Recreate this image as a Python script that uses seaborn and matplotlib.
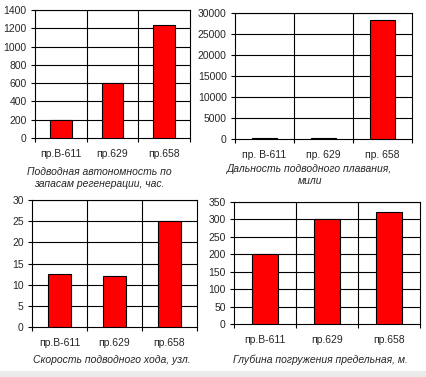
import matplotlib
matplotlib.use("Agg")
import matplotlib.pyplot as plt
import seaborn as sns
import pandas as pd
from matplotlib.patches import Rectangle

sns.set_style("white")
plt.rcParams['font.family'] = ['Liberation Sans', 'DejaVu Sans']

# ==========================================
# Data
# ==========================================
models = ["пр.В-611", "пр.629", "пр.658"]
models_spaced = ["пр. В-611", "пр. 629", "пр. 658"]
autonomy_hours = [200, 600, 1235]
range_miles = [300, 300, 28300]
speed_knots = [12.5, 12, 25]
depth_m = [200, 300, 320]

W, H = 427, 377
fig = plt.figure(figsize=(W / 100, H / 100), dpi=100)
fig.patch.set_facecolor("white")

# light grey frame strip like the original screenshot
fig.patches.append(Rectangle((0, 0), 1, 6 / H, transform=fig.transFigure,
                             facecolor="#ebebeb", edgecolor="none", zorder=0))


def px_axes(left, right, top, bottom):
    return fig.add_axes([left / W, 1 - bottom / H, (right - left) / W, (bottom - top) / H])


panels = [
    # (box, labels, values, ymax, step, title, title_x, title_y, label_pad)
    ((35, 190, 10, 138), models, autonomy_hours, 1400, 200,
     "Подводная автономность по\nзапасам регенерации, час.", 99, 178),
    ((235, 412, 13, 139), models_spaced, range_miles, 30000, 5000,
     "Дальность подводного плавания,\nмили", 310, 175),
    ((32, 197, 200, 327), models, speed_knots, 30, 5,
     "Скорость подводного хода, узл.", 112, 360),
    ((234, 420, 202, 324), models, depth_m, 350, 50,
     "Глубина погружения предельная, м.", 320, 360),
]

for box, labels, values, ymax, step, title, tx, ty in panels:
    ax = px_axes(*box)
    df = pd.DataFrame({"model": labels, "value": values})
    sns.barplot(data=df, x="model", y="value", color="red", saturation=1,
                width=0.42, edgecolor="black", linewidth=0.8, ax=ax, zorder=3)
    ax.set_xlim(-0.5, 2.5)
    ax.set_ylim(0, ymax)
    ax.set_yticks(range(0, ymax + 1, step))
    for y in range(step, ymax + 1, step):
        ax.axhline(y, color="black", linewidth=0.8, zorder=1)
    for x in [0.5, 1.5]:
        ax.axvline(x, color="black", linewidth=0.8, zorder=1)
    ax.set_xlabel("")
    ax.set_ylabel("")
    for s in ax.spines.values():
        s.set_color("black")
        s.set_linewidth(0.8)
    ax.set_xticks([-0.5, 0.5, 1.5, 2.5], minor=True)
    ax.tick_params(axis="x", which="major", length=0, pad=8, labelsize=7.5)
    ax.tick_params(axis="x", which="minor", length=3, width=0.8, direction="out",
                   bottom=True, color="black")
    ax.tick_params(axis="y", length=3, width=0.8, direction="out", left=True,
                   pad=3, labelsize=7.5, color="black")
    fig.text(tx / W, 1 - ty / H, title, ha="center", va="center",
             fontsize=7.5, style="italic", linespacing=1.25)

fig.savefig("out.png", dpi=100)
